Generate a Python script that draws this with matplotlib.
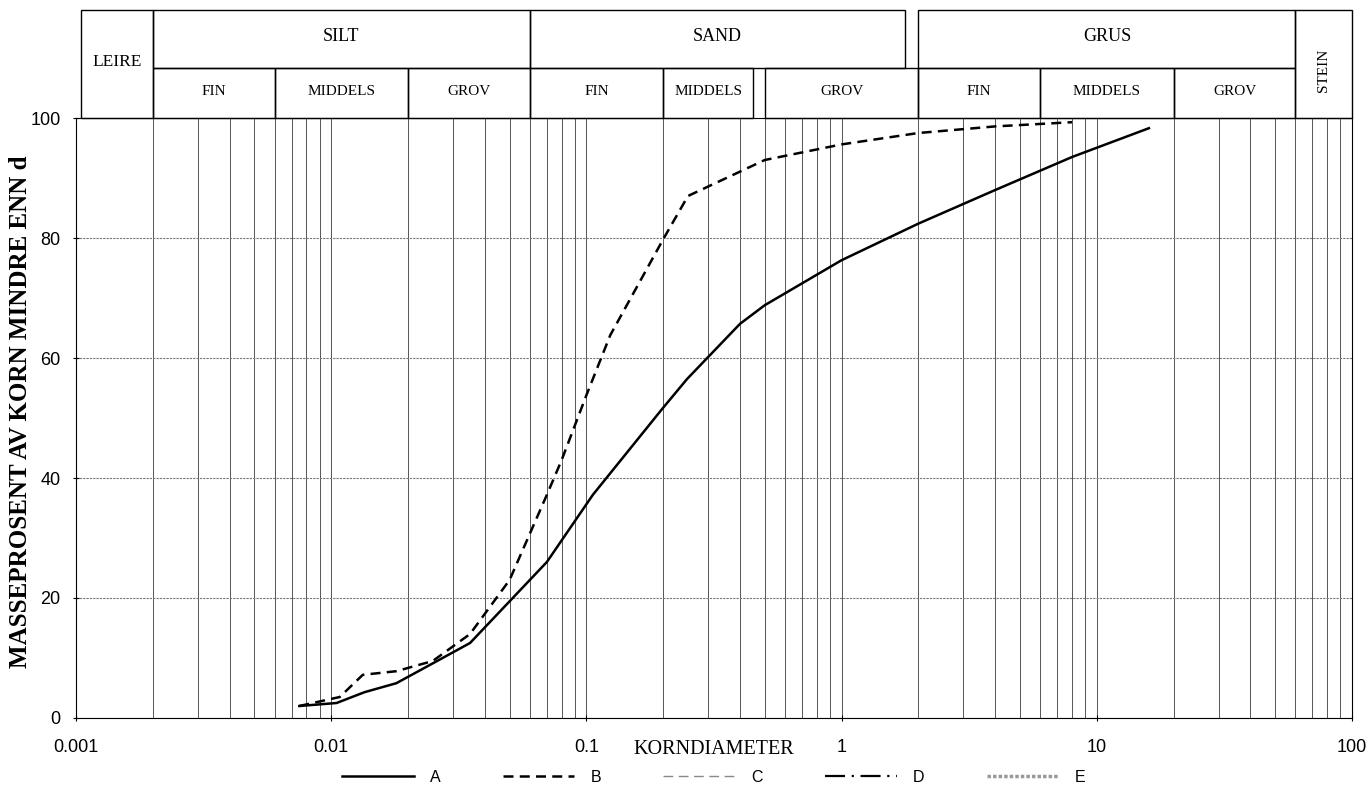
import numpy as np
import matplotlib
matplotlib.use("Agg")
import matplotlib.pyplot as plt
from matplotlib.patches import Rectangle
from matplotlib.ticker import LogLocator, FixedLocator, NullFormatter
import matplotlib.transforms as mtransforms

# kornfordeling
d_a = [0.0075, 0.0105, 0.0135, 0.018, 0.026, 0.035, 0.07, 0.106, 0.198, 0.248,
       0.40, 0.50, 1.0, 2.0, 4.0, 8.0, 16.0]
p_a = [2.0, 2.5, 4.3, 5.8, 9.5, 12.5, 26.0, 37.2, 51.5, 56.5,
       65.7, 68.8, 76.3, 82.4, 88.0, 93.5, 98.3]

d_b = [0.0075, 0.0108, 0.0133, 0.018, 0.025, 0.035, 0.05, 0.07, 0.08, 0.1,
       0.124, 0.2, 0.25, 0.5, 1.0, 2.0, 4.0, 8.0]
p_b = [2.0, 3.5, 7.2, 7.8, 9.5, 14.0, 23.0, 37.2, 43.0, 53.8,
       63.8, 79.8, 87.0, 93.0, 95.6, 97.5, 98.6, 99.3]

# kornfraksjoner (topp-rad og under-rad)
hoved_navn = ["LEIRE", "SILT", "SAND", "GRUS", "STEIN"]
hoved_grenser = [(0.00105, 0.002), (0.002, 0.06), (0.06, 1.77), (2.0, 60.0), (60.0, 100.0)]
under_navn = ["FIN", "MIDDELS", "GROV", "FIN", "MIDDELS", "GROV", "FIN", "MIDDELS", "GROV"]
under_grenser = [(0.002, 0.006), (0.006, 0.02), (0.02, 0.06), (0.06, 0.2), (0.2, 0.45),
                 (0.5, 2.0), (2.0, 6.0), (6.0, 20.0), (20.0, 60.0)]

xticks = [0.001, 0.01, 0.1, 1, 10, 100]
xtick_labels = ["0.001", "0.01", "0.1", "1", "10", "100"]
yticks = [0, 20, 40, 60, 80, 100]

serif = "Liberation Serif"
sans = "Liberation Sans"

fig = plt.figure(figsize=(13.72, 7.97), dpi=100)
ax = fig.add_axes([76 / 1372, 1 - 718 / 797, 1276 / 1372, 600 / 797])

ax.set_xscale("log")
ax.set_xlim(0.001, 100)
ax.set_ylim(0, 100)

ax.xaxis.set_major_locator(FixedLocator(xticks))
ax.set_xticklabels(xtick_labels, fontfamily=sans, fontsize=13)
ax.xaxis.set_minor_locator(LogLocator(base=10, subs=np.arange(2, 10), numticks=30))
ax.xaxis.set_minor_formatter(NullFormatter())
ax.set_yticks(yticks)
ax.set_yticklabels([str(v) for v in yticks], fontfamily=sans, fontsize=13)
ax.tick_params(axis="x", which="major", length=4, direction="inout", pad=13)
ax.tick_params(axis="x", which="minor", length=0)
ax.tick_params(axis="y", length=4, direction="inout", pad=9)

ax.grid(True, which="both", axis="x", color="#3a3a3a", lw=0.6)
ax.grid(True, which="major", axis="y", color="#777777", lw=0.8, ls=(0, (2, 1)))
for s in ax.spines.values():
    s.set_linewidth(0.8)

ax.plot(d_a, p_a, color="black", lw=1.8, label="A")
ax.plot(d_b, p_b, color="black", lw=1.8, ls=(0, (4, 2.5)), label="B")
ax.plot([], [], color="#888888", lw=1.0, ls=(0, (7, 4)), label="C")
ax.plot([], [], color="black", lw=1.6, ls=(0, (9, 3, 1, 3)), label="D")
ax.plot([], [], color="#999999", lw=2.5, ls=(0, (1, 0.6)), label="E")

# overskrift med kornfraksjoner
trans = mtransforms.blended_transform_factory(ax.transData, ax.transAxes)
y_top, y_mid = 1.18, 1.083
for navn, (x0, x1) in zip(hoved_navn, hoved_grenser):
    xm = np.sqrt(x0 * x1)
    if navn in ("LEIRE", "STEIN"):
        ax.add_patch(Rectangle((x0, 1.0), x1 - x0, y_top - 1.0, transform=trans,
                               fill=False, lw=1.0, clip_on=False))
        if navn == "STEIN":
            ax.text(xm, (1.0 + y_top) / 2 - 0.01, navn, transform=trans, rotation=90,
                    ha="center", va="center", fontfamily=serif, fontsize=11)
        else:
            ax.text(xm, (1.0 + y_top) / 2 + 0.003, navn, transform=trans,
                    ha="center", va="center", fontfamily=serif, fontsize=12.5)
    else:
        ax.add_patch(Rectangle((x0, y_mid), x1 - x0, y_top - y_mid, transform=trans,
                               fill=False, lw=1.0, clip_on=False))
        ax.text(xm, (y_mid + y_top) / 2 + 0.005, navn, transform=trans,
                ha="center", va="center", fontfamily=serif, fontsize=13)

for navn, (x0, x1) in zip(under_navn, under_grenser):
    ax.add_patch(Rectangle((x0, 1.0), x1 - x0, y_mid - 1.0, transform=trans,
                           fill=False, lw=1.0, clip_on=False))
    ax.text(np.sqrt(x0 * x1), (1.0 + y_mid) / 2 + 0.003, navn, transform=trans,
            ha="center", va="center", fontfamily=serif, fontsize=11)

ax.text(0.5, -0.053, "KORNDIAMETER", transform=ax.transAxes, ha="center", va="center",
        fontfamily=serif, fontsize=14.5)
fig.text(21 / 1372, 1 - 412 / 797, "MASSEPROSENT AV KORN MINDRE ENN d", rotation=90,
         ha="center", va="center", fontfamily=serif, fontweight="bold", fontsize=18)

fig.legend(loc="center", bbox_to_anchor=(0.52, 0.025), ncol=5, frameon=False,
           handlelength=4.5, handletextpad=1.0, columnspacing=3.9,
           prop={"family": sans, "size": 11.5})

fig.savefig("out.png", dpi=100)
